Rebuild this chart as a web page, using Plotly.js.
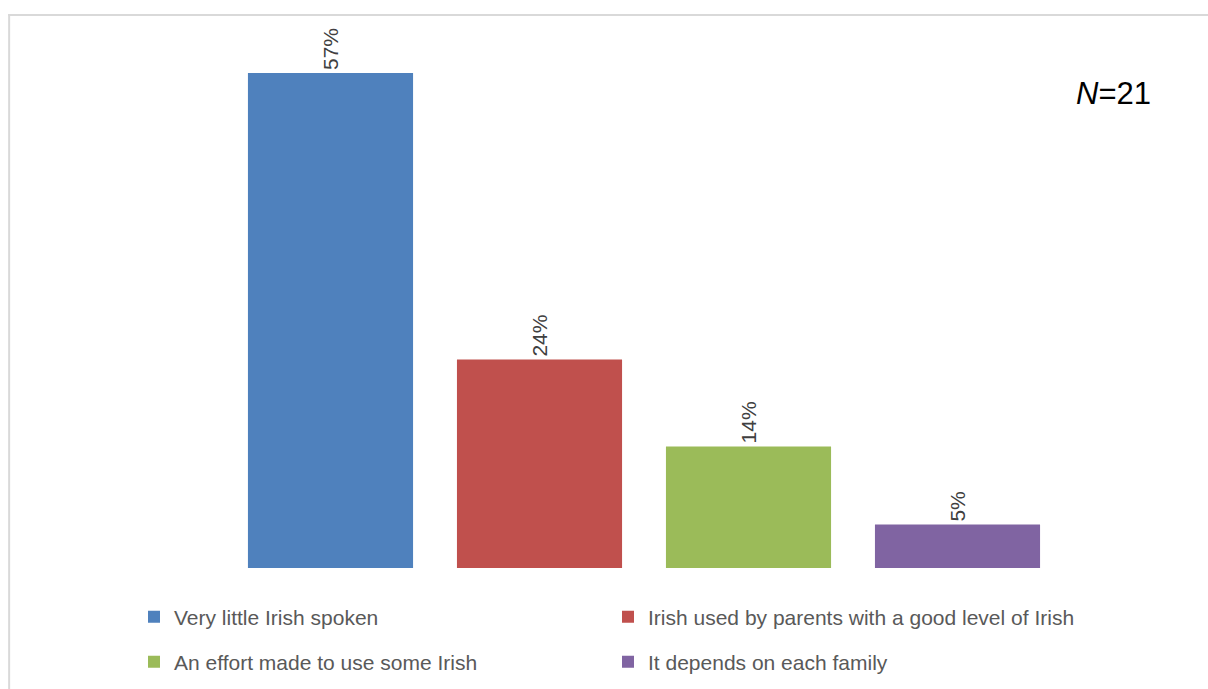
<!DOCTYPE html>
<html>
<head>
<meta charset="utf-8">
<script src="https://cdn.plot.ly/plotly-3.0.1.min.js"></script>
<style>html,body{margin:0;padding:0;background:#fff;}#chart{width:1208px;height:689px;}</style>
</head>
<body>
<div id="chart"></div>
<script>
var categories = ["Very little Irish spoken", "Irish used by parents with a good level of Irish", "An effort made to use some Irish", "It depends on each family"];
var values = [57, 24, 14, 5];
var labels = ["57%", "24%", "14%", "5%"];
var colors = ["#4F81BD", "#C0504D", "#9BBB59", "#8064A2"];
var legendIds = ["legend", "legend2", "legend3", "legend4"];

// plot area in pixels
var W = 1208, H = 689;
var L = 226, R = 1062.5, T = 47, B = 568;
function px(x) { return (x - L) / (R - L); }
function py(y) { return (B - y) / (B - T); }
function cx(x) { return x / W; }
function cy(y) { return 1 - y / H; }

var traces = categories.map(function (c, i) {
  return {
    type: "bar",
    name: c,
    x: [c],
    y: [values[i]],
    text: [labels[i]],
    textposition: "outside",
    textangle: -90,
    constraintext: "none",
    cliponaxis: false,
    textfont: { family: "Liberation Sans, Arial, sans-serif", size: 21, color: "#404040" },
    marker: { color: colors[i], line: { width: 0 } },
    width: 0.79,
    legend: legendIds[i],
    hoverinfo: "skip"
  };
});

var legendFont = { family: "Liberation Sans, Arial, sans-serif", size: 21, color: "#595959" };
function mkLegend(xp, yp) {
  return {
    orientation: "h", xref: "container", yref: "container",
    x: cx(xp), xanchor: "left", y: cy(yp), yanchor: "middle",
    font: legendFont, bgcolor: "rgba(0,0,0,0)"
  };
}

var layout = {
  width: W, height: H,
  margin: { l: L, r: W - R, t: T, b: H - B, pad: 0, autoexpand: false },
  paper_bgcolor: "#fff",
  plot_bgcolor: "#fff",
  barmode: "overlay",
  showlegend: true,
  xaxis: { type: "category", range: [-0.5, 3.5], visible: false, fixedrange: true },
  yaxis: { range: [0, 60], visible: false, fixedrange: true },
  legend: mkLegend(134, 617),
  legend2: mkLegend(608, 617),
  legend3: mkLegend(134, 662),
  legend4: mkLegend(608, 662),
  annotations: [{
    xref: "paper", yref: "paper", x: px(1114), y: py(94),
    xanchor: "center", yanchor: "middle", showarrow: false,
    text: "<i>N</i>=21",
    font: { family: "Liberation Sans, Arial, sans-serif", size: 31, color: "#000" }
  }],
  shapes: [
    { type: "line", xref: "paper", yref: "paper", x0: px(8), x1: px(1210), y0: py(15), y1: py(15), line: { color: "#d9d9d9", width: 2 } },
    { type: "line", xref: "paper", yref: "paper", x0: px(9), x1: px(9), y0: py(14), y1: py(692), line: { color: "#d9d9d9", width: 2 } }
  ]
};

Plotly.newPlot("chart", traces, layout, { displayModeBar: false, staticPlot: true });
</script>
</body>
</html>
